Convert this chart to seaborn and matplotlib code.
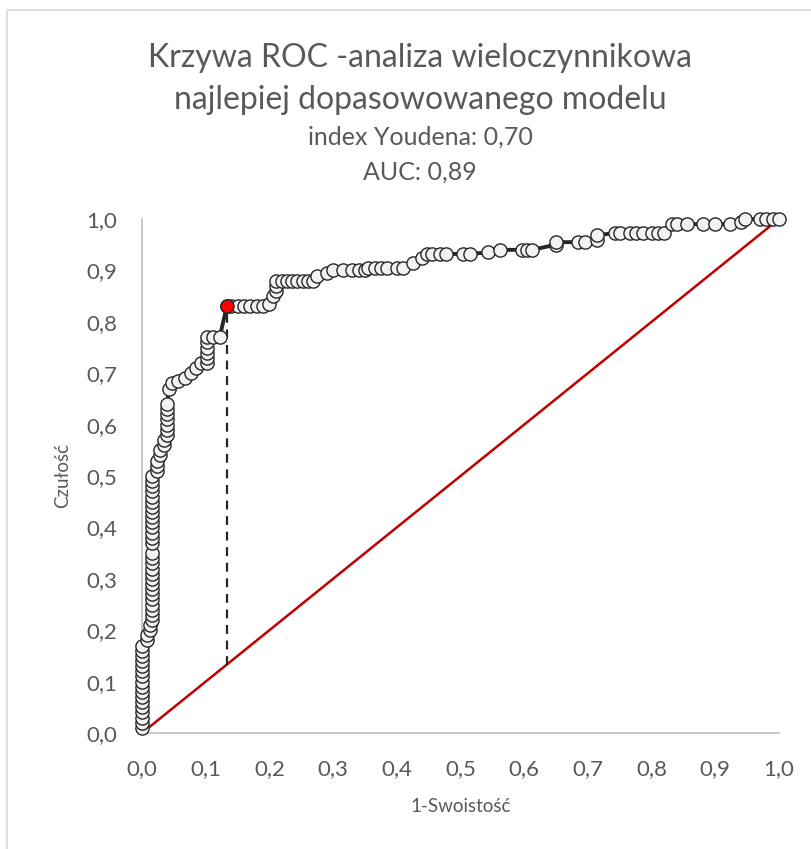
import matplotlib
matplotlib.use("Agg")
import matplotlib.pyplot as plt
import seaborn as sns
import pandas as pd
from matplotlib.patches import Rectangle

# ---- data ----
fpr = ([0.0] * 17 + [0.008, 0.008, 0.012, 0.012] + [0.015] * 28 +
       [0.023, 0.023, 0.023, 0.028, 0.028, 0.035, 0.035] + [0.04] * 7 +
       [0.042, 0.047, 0.057, 0.067, 0.077, 0.085, 0.092] + [0.102] * 6 +
       [0.112, 0.122, 0.133,
        0.14, 0.15, 0.16, 0.17, 0.18, 0.19, 0.2, 0.205, 0.21, 0.21, 0.21,
        0.22, 0.228, 0.236, 0.244, 0.252, 0.26, 0.268, 0.275, 0.29,
        0.30, 0.315, 0.33, 0.34, 0.35, 0.355, 0.365, 0.375, 0.385, 0.40, 0.41,
        0.425, 0.44, 0.447, 0.455, 0.468, 0.478, 0.504, 0.515, 0.543, 0.562,
        0.597, 0.604, 0.612, 0.65, 0.65, 0.685, 0.695, 0.714, 0.714,
        0.742, 0.75, 0.766, 0.776, 0.787, 0.80, 0.81, 0.82,
        0.832, 0.84, 0.855, 0.88, 0.90, 0.923, 0.94, 0.946,
        0.97, 0.98, 0.99, 1.0])
tpr = ([0.01, 0.02, 0.03, 0.04, 0.05, 0.06, 0.07, 0.08, 0.09, 0.10, 0.11, 0.12,
        0.13, 0.14, 0.15, 0.16, 0.17, 0.18, 0.19, 0.20, 0.21,
        0.22, 0.23, 0.24, 0.25, 0.26, 0.27, 0.28, 0.29, 0.30, 0.31, 0.32, 0.33,
        0.34, 0.35, 0.37, 0.38, 0.39, 0.40, 0.41, 0.42, 0.43, 0.44, 0.45, 0.46,
        0.47, 0.48, 0.49, 0.50,
        0.51, 0.52, 0.53, 0.54, 0.55, 0.56, 0.57,
        0.58, 0.59, 0.60, 0.61, 0.62, 0.63, 0.64,
        0.67, 0.68, 0.685, 0.69, 0.70, 0.71, 0.72,
        0.72, 0.73, 0.74, 0.75, 0.76, 0.77,
        0.77, 0.77, 0.83,
        0.83, 0.83, 0.83, 0.83, 0.83, 0.83, 0.835, 0.85, 0.86, 0.87, 0.88,
        0.88, 0.88, 0.88, 0.88, 0.88, 0.88, 0.88, 0.89, 0.895,
        0.90, 0.90, 0.90, 0.90, 0.90, 0.905, 0.905, 0.905, 0.905, 0.905, 0.905,
        0.915, 0.925, 0.932, 0.932, 0.932, 0.932, 0.932, 0.932, 0.935, 0.94,
        0.94, 0.94, 0.94, 0.95, 0.955, 0.955, 0.955, 0.96, 0.968,
        0.973, 0.973, 0.973, 0.973, 0.973, 0.973, 0.973, 0.973,
        0.99, 0.99, 0.99, 0.99, 0.99, 0.99, 0.995, 1.0,
        1.0, 1.0, 1.0, 1.0])
youden_fpr = 0.133
youden_tpr = 0.83
diag = [0.0, 1.0]
ticks = [0.0, 0.1, 0.2, 0.3, 0.4, 0.5, 0.6, 0.7, 0.8, 0.9, 1.0]
tick_labels = ["0,0", "0,1", "0,2", "0,3", "0,4", "0,5", "0,6", "0,7", "0,8", "0,9", "1,0"]
title1 = "Krzywa ROC -analiza wieloczynnikowa"
title2 = "najlepiej dopasowowanego modelu"
sub1 = "index Youdena: 0,70"
sub2 = "AUC: 0,89"

df = pd.DataFrame({"fpr": fpr, "tpr": tpr})

sns.set_style("white")
plt.rcParams["font.family"] = ["Lato", "DejaVu Sans"]
gray = "#595959"

fig = plt.figure(figsize=(8.11, 8.49), dpi=100)
ax = fig.add_axes([142 / 811, 1 - 733 / 849, 637 / 811, 514 / 849])

# chart frame (partially visible)
fig.patches.append(Rectangle((7 / 811, -0.1), 1.2, 1 - 10 / 849 + 0.1,
                             transform=fig.transFigure, fill=False,
                             edgecolor="#d9d9d9", linewidth=1.2))

# diagonal reference
sns.lineplot(x=diag, y=diag, ax=ax, color="#c00000", linewidth=1.8,
             estimator=None, sort=False, zorder=2)
# dashed Youden line
sns.lineplot(x=[youden_fpr, youden_fpr], y=[youden_fpr, youden_tpr], ax=ax,
             color="#262626", linewidth=1.6, linestyle=(0, (4, 3)),
             estimator=None, sort=False, zorder=2)
# ROC curve
sns.lineplot(data=df, x="fpr", y="tpr", ax=ax, estimator=None, sort=False,
             color="#262626", linewidth=2.8, marker="o", markersize=9.5,
             markerfacecolor="#f2f2f2", markeredgecolor="#262626",
             markeredgewidth=1.0, zorder=3, clip_on=False)
# Youden point
sns.scatterplot(x=[youden_fpr], y=[youden_tpr], ax=ax, color="#ff0000",
                edgecolor="#262626", linewidth=1.0, s=90, zorder=4, clip_on=False)

ax.set_xlim(0, 1)
ax.set_ylim(0, 1)
ax.set_xticks(ticks)
ax.set_xticklabels(tick_labels)
ax.set_yticks(ticks)
ax.set_yticklabels(tick_labels)
ax.tick_params(axis="both", direction="in", length=6, width=1, color="#bfbfbf",
               labelcolor=gray, labelsize=16)
ax.tick_params(axis="x", pad=19)
ax.tick_params(axis="y", pad=18)
for s in ["top", "right"]:
    ax.spines[s].set_visible(False)
for s in ["left", "bottom"]:
    ax.spines[s].set_color("#bfbfbf")
    ax.spines[s].set_linewidth(1.2)
ax.set_xlabel("1-Swoistość", color=gray, fontsize=13.5)
ax.set_ylabel("Czułość", color=gray, fontsize=13.5)
ax.xaxis.set_label_coords(0.5, (733 - 798) / 514)
ax.yaxis.set_label_coords((71 - 142) / 637, 0.5)
if ax.get_legend():
    ax.get_legend().remove()

fig.text(0.518, 1 - 58 / 849, title1, ha="center", va="center", fontsize=23, color=gray)
fig.text(0.518, 1 - 100 / 849, title2, ha="center", va="center", fontsize=23, color=gray)
fig.text(0.518, 1 - 137 / 849, sub1, ha="center", va="center", fontsize=18, color=gray)
fig.text(0.518, 1 - 172 / 849, sub2, ha="center", va="center", fontsize=18, color=gray)

fig.savefig("out.png", dpi=100)
